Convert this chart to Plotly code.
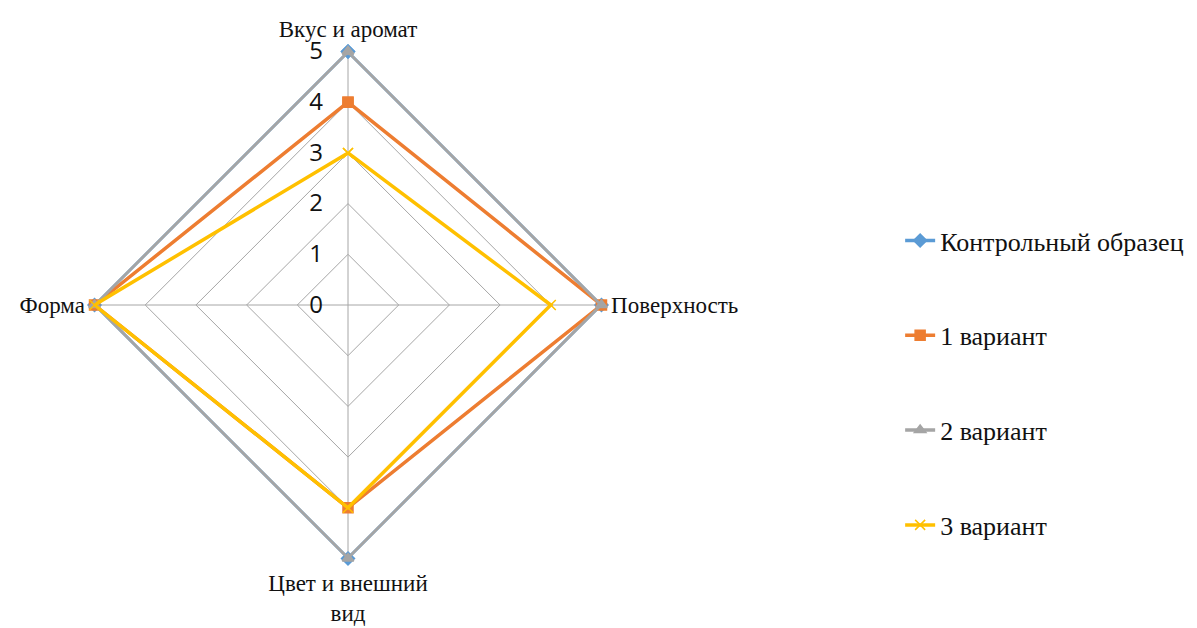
import plotly.graph_objects as go

# Sensory evaluation criteria (radar axes), clockwise from the top
criteria = ["Вкус и аромат", "Поверхность", "Цвет и внешний<br>вид", "Форма"]

# Scores per sample
control = [5, 5, 5, 5]
variant1 = [4, 5, 4, 5]
variant2 = [5, 5, 5, 5]
variant3 = [3, 4, 4, 5]

series_names = ["Контрольный образец", "1 вариант", "2 вариант", "3 вариант"]
series_values = [control, variant1, variant2, variant3]
series_colors = ["#5B9BD5", "#ED7D31", "#A5A5A5", "#FFC000"]
series_symbols = ["diamond", "square", "triangle-up", "x-thin"]

radial_ticks = [0, 1, 2, 3, 4, 5]

SERIF = "Liberation Serif"

fig = go.Figure()

for name, vals, color, sym in zip(series_names, series_values, series_colors, series_symbols):
    fig.add_trace(go.Scatterpolar(
        r=vals + vals[:1],
        theta=criteria + criteria[:1],
        mode="lines+markers",
        name=name,
        legendgroup=name,
        line=dict(color=color, width=3.5),
        marker=dict(symbol=sym, size=10, color=color,
                    line=dict(color=color, width=1.5)),
        cliponaxis=False,
    ))

fig.update_layout(
    width=1197,
    height=628,
    margin=dict(l=0, r=0, t=0, b=0),
    paper_bgcolor="white",
    plot_bgcolor="white",
    font=dict(family=SERIF, size=23, color="#111111"),
    polar=dict(
        domain=dict(x=[93 / 1197, 603 / 1197], y=[68 / 628, 578 / 628]),
        bgcolor="white",
        gridshape="linear",
        radialaxis=dict(
            range=[0, 5.03],
            tickvals=radial_ticks,
            ticktext=[str(t) for t in radial_ticks],
            angle=90,
            tickangle=90,
            side="counterclockwise",
            showline=False,
            ticks="outside",
            ticklen=16,
            tickcolor="rgba(0,0,0,0)",
            gridcolor="#A6A6A6",
            gridwidth=1,
            tickfont=dict(family="Open Sans", size=24, color="#111111"),
        ),
        angularaxis=dict(
            direction="clockwise",
            rotation=90,
            showline=False,
            gridcolor="#A6A6A6",
            gridwidth=1,
            ticks="outside",
            ticklen=3,
            tickcolor="rgba(0,0,0,0)",
            tickfont=dict(family=SERIF, size=23, color="#111111"),
        ),
    ),
    legend=dict(
        x=0.752,
        y=0.39,
        xanchor="left",
        yanchor="middle",
        tracegroupgap=58,
        font=dict(family=SERIF, size=26, color="#111111"),
        bgcolor="rgba(0,0,0,0)",
    ),
)

fig.write_html("out.html")
